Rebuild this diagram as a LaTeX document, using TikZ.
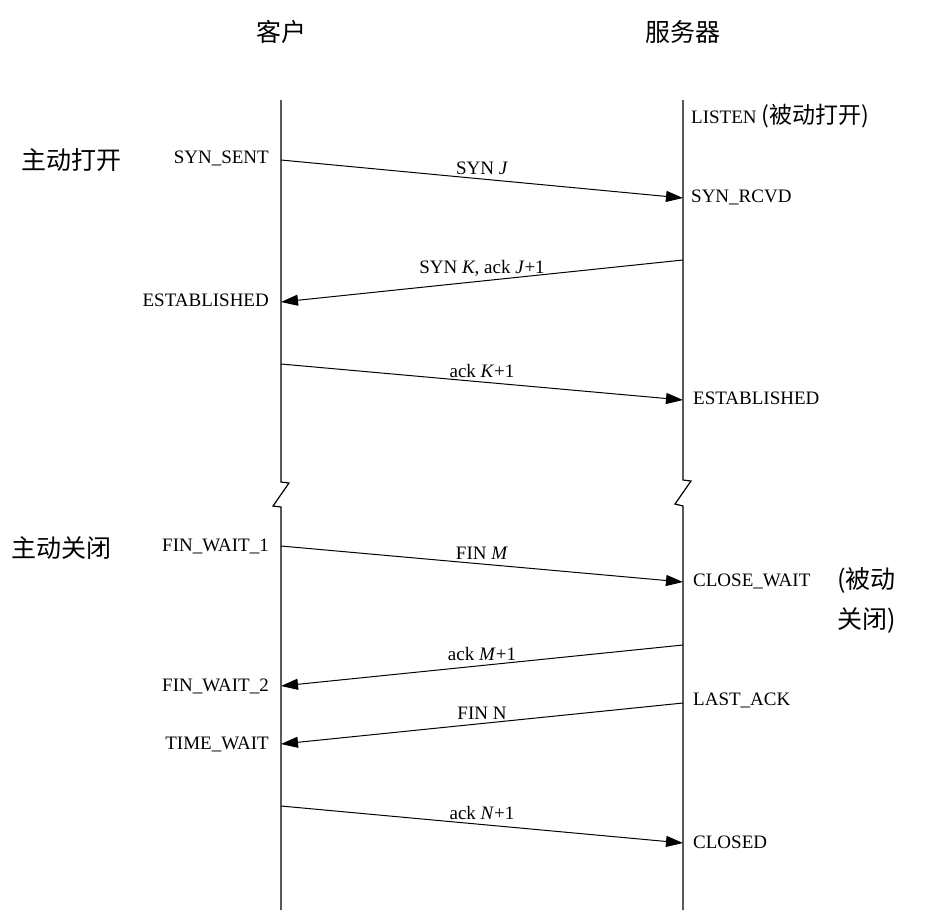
\documentclass[tikz,border=0pt]{standalone}
\usepackage{fontspec}
\setmainfont{Liberation Serif}
\newfontfamily\cjk{Noto Sans CJK SC}
\usetikzlibrary{arrows.meta}
\begin{document}
\begin{tikzpicture}[x=1pt,y=-1pt,
  lbl/.style={font=\fontsize{19}{21}\selectfont,inner sep=1pt},
  cj/.style={font=\cjk\fontsize{25}{29}\selectfont,inner sep=1pt},
  msg/.style={-{Triangle[length=17pt,width=11pt]},line width=1pt},
  ml/.style={font=\fontsize{19}{21}\selectfont,above,inner sep=4pt}]
\useasboundingbox[fill=white] (0,0) rectangle (952,922);
% time lines
\draw[line width=1.2pt] (281,100) -- (281,482) -- (289,483) -- (273,506) -- (281,507) -- (281,910);
\draw[line width=1.2pt] (683,100) -- (683,480) -- (691,481) -- (675,504) -- (683,506) -- (683,910);
\node[cj] (cl) at (281,32) {客户};
\node[cj] (sv) at (683,32) {服务器};
% endpoints
\coordinate (a1) at (281,160); \coordinate (b1) at (683,198);
\coordinate (b2) at (683,260); \coordinate (a2) at (281,302);
\coordinate (a3) at (281,364); \coordinate (b3) at (683,400);
\coordinate (a4) at (281,546); \coordinate (b4) at (683,582);
\coordinate (b5) at (683,645); \coordinate (a5) at (281,686);
\coordinate (b6) at (683,703); \coordinate (a6) at (281,744);
\coordinate (a7) at (281,806); \coordinate (b7) at (683,843);
\draw[msg] (a1) -- node[ml] {SYN \textit{J}} (b1);
\draw[msg] (b2) -- node[ml] {SYN \textit{K}, ack \textit{J}+1} (a2);
\draw[msg] (a3) -- node[ml] {ack \textit{K}+1} (b3);
\draw[msg] (a4) -- node[ml] {FIN \textit{M}} (b4);
\draw[msg] (b5) -- node[ml] {ack \textit{M}+1} (a5);
\draw[msg] (b6) -- node[ml] {FIN N} (a6);
\draw[msg] (a7) -- node[ml] {ack \textit{N}+1} (b7);
% left states
\node[cj,anchor=west] (ao) at (20,160) {主动打开};
\node[lbl,anchor=east] (s1) at (270,158) {SYN\_SENT};
\node[lbl,anchor=east] (s2) at (270,300) {ESTABLISHED};
\node[cj,anchor=west] (ac) at (10,548) {主动关闭};
\node[lbl,anchor=east] (s3) at (270,546) {FIN\_WAIT\_1};
\node[lbl,anchor=east] (s4) at (270,686) {FIN\_WAIT\_2};
\node[lbl,anchor=east] (s5) at (270,744) {TIME\_WAIT};
% right states
\node[lbl,anchor=west] (r0) at (690,116) {LISTEN {\cjk\fontsize{23}{27}\selectfont (被动打开)}};
\node[lbl,anchor=west] (r1) at (690,197) {SYN\_RCVD};
\node[lbl,anchor=west] (r2) at (692,398) {ESTABLISHED};
\node[lbl,anchor=west] (r3) at (692,581) {CLOSE\_WAIT};
\node[cj,anchor=west] (pc1) at (836,580) {(被动};
\node[cj,anchor=west] (pc2) at (836,620) {关闭)};
\node[lbl,anchor=west] (r4) at (692,700) {LAST\_ACK};
\node[lbl,anchor=west] (r5) at (692,842) {CLOSED};
\end{tikzpicture}
\end{document}
